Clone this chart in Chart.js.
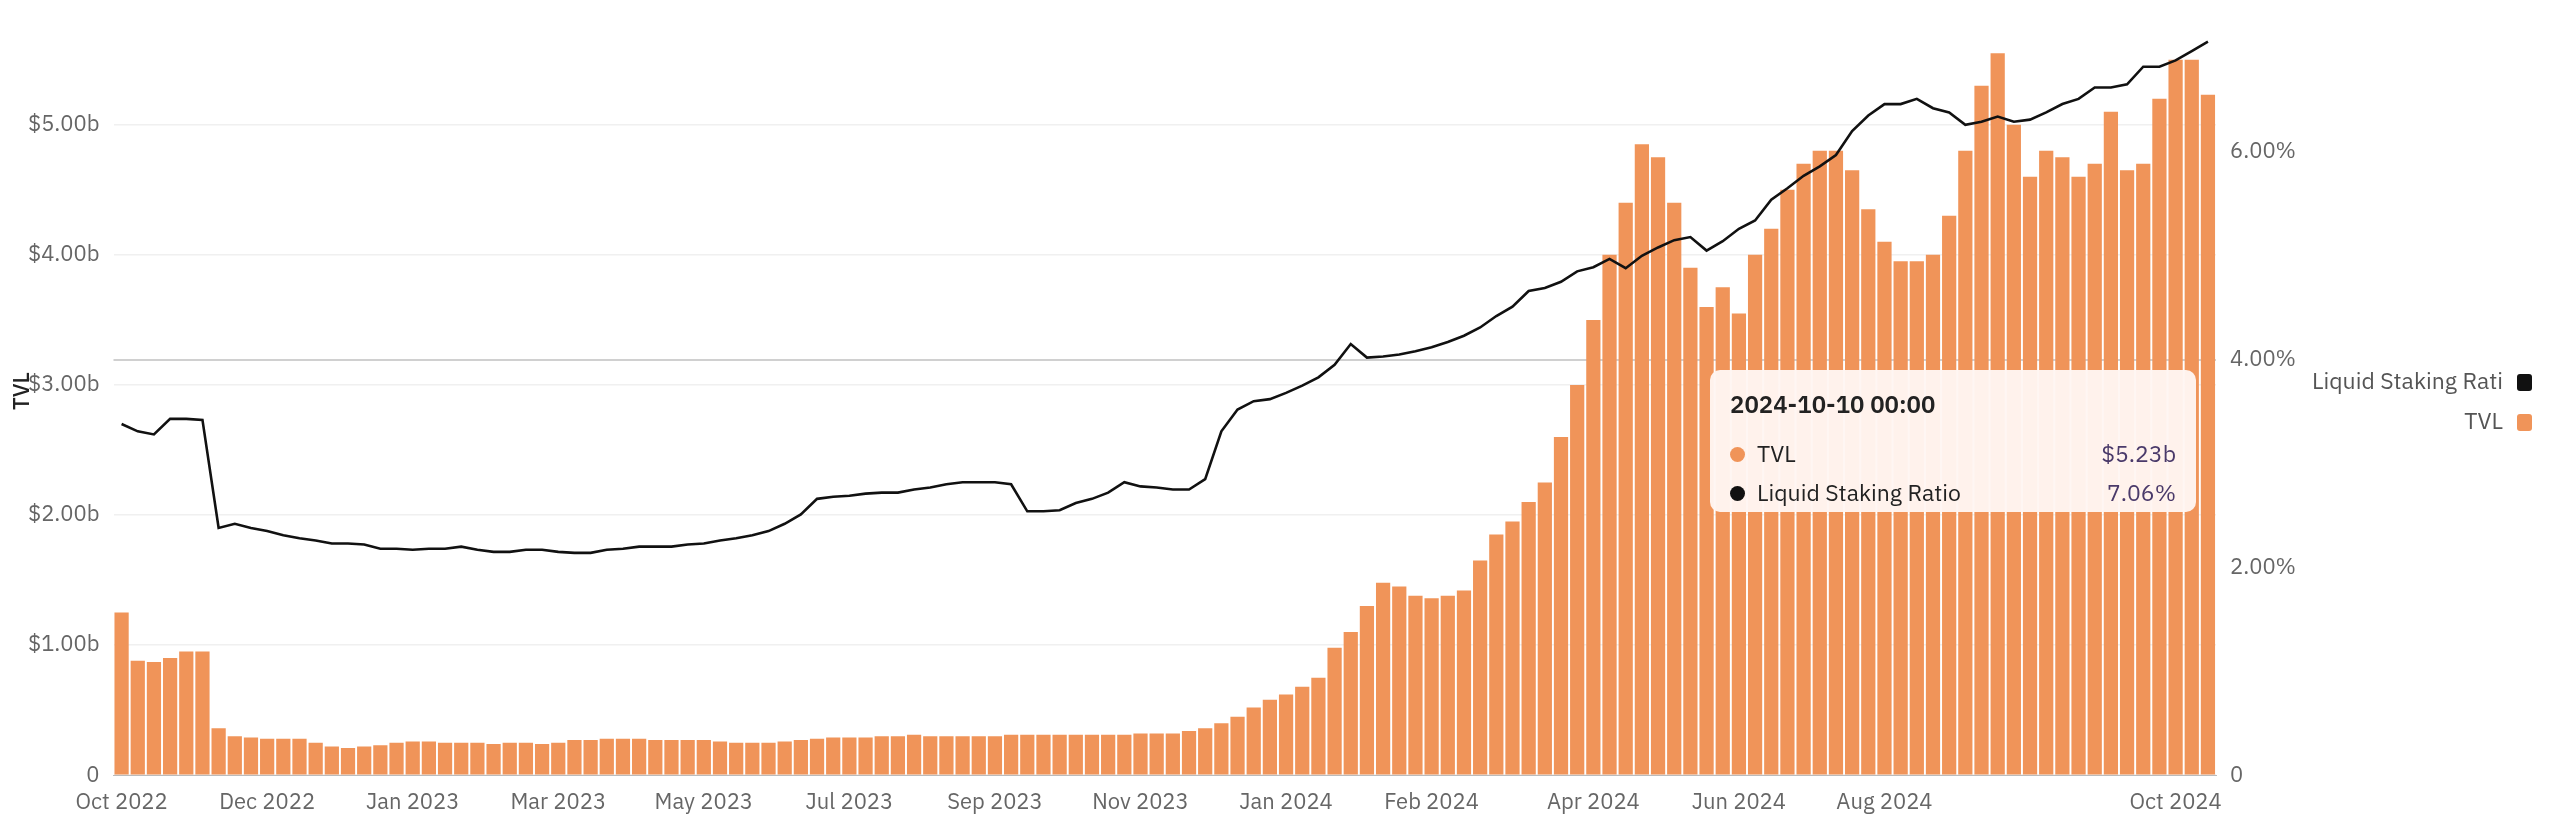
<!DOCTYPE html>
<html><head><meta charset="utf-8">
<script src="https://cdn.jsdelivr.net/npm/chart.js@4"></script>
<style>
html,body{margin:0;padding:0;background:#fff;width:2560px;height:828px;overflow:hidden;font-family:"IBM Plex Sans","Noto Sans",sans-serif;}
#wrap{position:absolute;left:0;top:0;width:2560px;height:866px;}
#ytitle{position:absolute;left:6px;top:410px;transform:rotate(-90deg);transform-origin:left top;font-size:22px;color:#222;font-weight:500;}
#legend{position:absolute;right:28px;top:360px;font-size:23px;color:#555;text-align:right;line-height:40px;}
#legend span.sq{display:inline-block;width:15px;height:17px;border-radius:3px;margin-left:14px;vertical-align:-2px;}
#tip{position:absolute;left:1710px;top:370px;width:486px;height:142px;background:rgba(255,246,242,0.96);border-radius:10px;box-sizing:border-box;padding:18px 20px;color:#222;font-size:23px;}
#tip .t{font-weight:600;font-size:24px;margin-bottom:14px;}
#tip .r{display:flex;justify-content:space-between;line-height:39px;}
#tip .v{color:#4a3a6a;}
#tip .dot{display:inline-block;width:15px;height:15px;border-radius:50%;margin-right:12px;vertical-align:0px;}
</style></head><body>
<div id="wrap"><canvas id="c"></canvas></div>
<div id="ytitle">TVL</div>
<div id="legend">
 <div>Liquid Staking Rati<span class="sq" style="background:#111"></span></div>
 <div>TVL<span class="sq" style="background:#F09459"></span></div>
</div>
<div id="tip">
 <div class="t">2024-10-10 00:00</div>
 <div class="r"><span><span class="dot" style="background:#F09459"></span>TVL</span><span class="v">$5.23b</span></div>
 <div class="r"><span><span class="dot" style="background:#111"></span>Liquid Staking Ratio</span><span class="v">7.06%</span></div>
</div>
<script>
const tickLabels = ["Oct 2022","Dec 2022","Jan 2023","Mar 2023","May 2023","Jul 2023","Sep 2023","Nov 2023","Jan 2024","Feb 2024","Apr 2024","Jun 2024","Aug 2024","Oct 2024"];
const tickIndex  = [0,9,18,27,36,45,54,63,72,81,91,100,109,127];

const tvl = [1.25,0.88,0.87,0.9,0.95,0.95,0.36,0.3,0.29,0.28,
0.28,0.28,0.25,0.22,0.21,0.22,0.23,0.25,0.26,0.26,
0.25,0.25,0.25,0.24,0.25,0.25,0.24,0.25,0.27,0.27,
0.28,0.28,0.28,0.27,0.27,0.27,0.27,0.26,0.25,0.25,
0.25,0.26,0.27,0.28,0.29,0.29,0.29,0.3,0.3,0.31,
0.3,0.3,0.3,0.3,0.3,0.31,0.31,0.31,0.31,0.31,
0.31,0.31,0.31,0.32,0.32,0.32,0.34,0.36,0.4,0.45,
0.52,0.58,0.62,0.68,0.75,0.98,1.1,1.3,1.48,1.45,
1.38,1.36,1.38,1.42,1.65,1.85,1.95,2.1,2.25,2.6,
3.0,3.5,4.0,4.4,4.85,4.75,4.4,3.9,3.6,3.75,
3.55,4.0,4.2,4.5,4.7,4.8,4.8,4.65,4.35,4.1,
3.95,3.95,4.0,4.3,4.8,5.3,5.55,5.0,4.6,4.8,
4.75,4.6,4.7,5.1,4.65,4.7,5.2,5.5,5.5,5.23];

const ratio = [3.38,3.31,3.28,3.43,3.43,3.42,2.38,2.42,2.38,2.35,
2.31,2.28,2.26,2.23,2.23,2.22,2.18,2.18,2.17,2.18,
2.18,2.2,2.17,2.15,2.15,2.17,2.17,2.15,2.14,2.14,
2.17,2.18,2.2,2.2,2.2,2.22,2.23,2.26,2.28,2.31,
2.35,2.42,2.51,2.66,2.68,2.69,2.71,2.72,2.72,2.75,
2.77,2.8,2.82,2.82,2.82,2.8,2.54,2.54,2.55,2.62,
2.66,2.72,2.82,2.78,2.77,2.75,2.75,2.85,3.31,3.52,
3.6,3.62,3.68,3.75,3.83,3.95,4.15,4.02,4.03,4.05,
4.08,4.12,4.17,4.23,4.31,4.42,4.51,4.66,4.69,4.75,
4.85,4.89,4.97,4.88,5.0,5.08,5.15,5.18,5.05,5.14,
5.26,5.34,5.54,5.65,5.77,5.86,5.97,6.2,6.35,6.46,
6.46,6.51,6.42,6.38,6.26,6.29,6.34,6.29,6.31,6.38,
6.46,6.51,6.62,6.62,6.65,6.82,6.82,6.88,6.97,7.06];

const categories = tvl.map((_, i) => i);
const leftTicks = [0,1,2,3,4,5];
const rightTicks = [0,2,4,6];
const tickFont = {family:'"IBM Plex Sans","Noto Sans",sans-serif', size:22};

new Chart(document.getElementById('c'), {
  data: {
    labels: categories,
    datasets: [
      {type:'line', label:'Liquid Staking Ratio', data: ratio, yAxisID:'y1', borderColor:'#111', borderWidth:2.6, pointRadius:0, tension:0, order:0},
      {type:'bar', label:'TVL', data: tvl, yAxisID:'y', backgroundColor:'#F09459', barPercentage:0.88, categoryPercentage:1, order:1}
    ]
  },
  options: {
    responsive:true, maintainAspectRatio:false, animation:false,
    layout:{padding:{left:14, right:250, top:11, bottom:0}},
    plugins:{legend:{display:false}, tooltip:{enabled:false}},
    scales:{
      x:{
        grid:{display:false}, border:{display:true,color:'#bbb'},
        ticks:{autoSkip:false, maxRotation:0, color:'#666', font:tickFont, padding:6,
          callback:(v,i)=>{const k=tickIndex.indexOf(i); return k>=0?tickLabels[k]:'';}},
        title:{display:true, text:'Date', color:'#222', font:{size:22}, padding:{top:14}}
      },
      y:{
        position:'left', min:0, max:5.75,
        afterBuildTicks:(a)=>{a.ticks = leftTicks.map(v=>({value:v}));},
        grid:{color:'#f0f0f0', lineWidth:1.5, drawTicks:false}, border:{display:false},
        ticks:{color:'#666', font:tickFont, padding:14, callback:v=> v===0?'0':'$'+v.toFixed(2)+'b'}
      },
      y1:{
        position:'right', min:0, max:7.2,
        afterBuildTicks:(a)=>{a.ticks = rightTicks.map(v=>({value:v}));},
        grid:{drawOnChartArea:true, drawTicks:false, lineWidth:2, color:(c)=> c.tick && c.tick.value===4 ? '#d0d0d0' : 'rgba(0,0,0,0)'},
        border:{display:false},
        ticks:{color:'#666', font:tickFont, padding:14, callback:v=> v===0?'0':v.toFixed(2)+'%'}
      }
    }
  }
});
</script>
</body></html>
